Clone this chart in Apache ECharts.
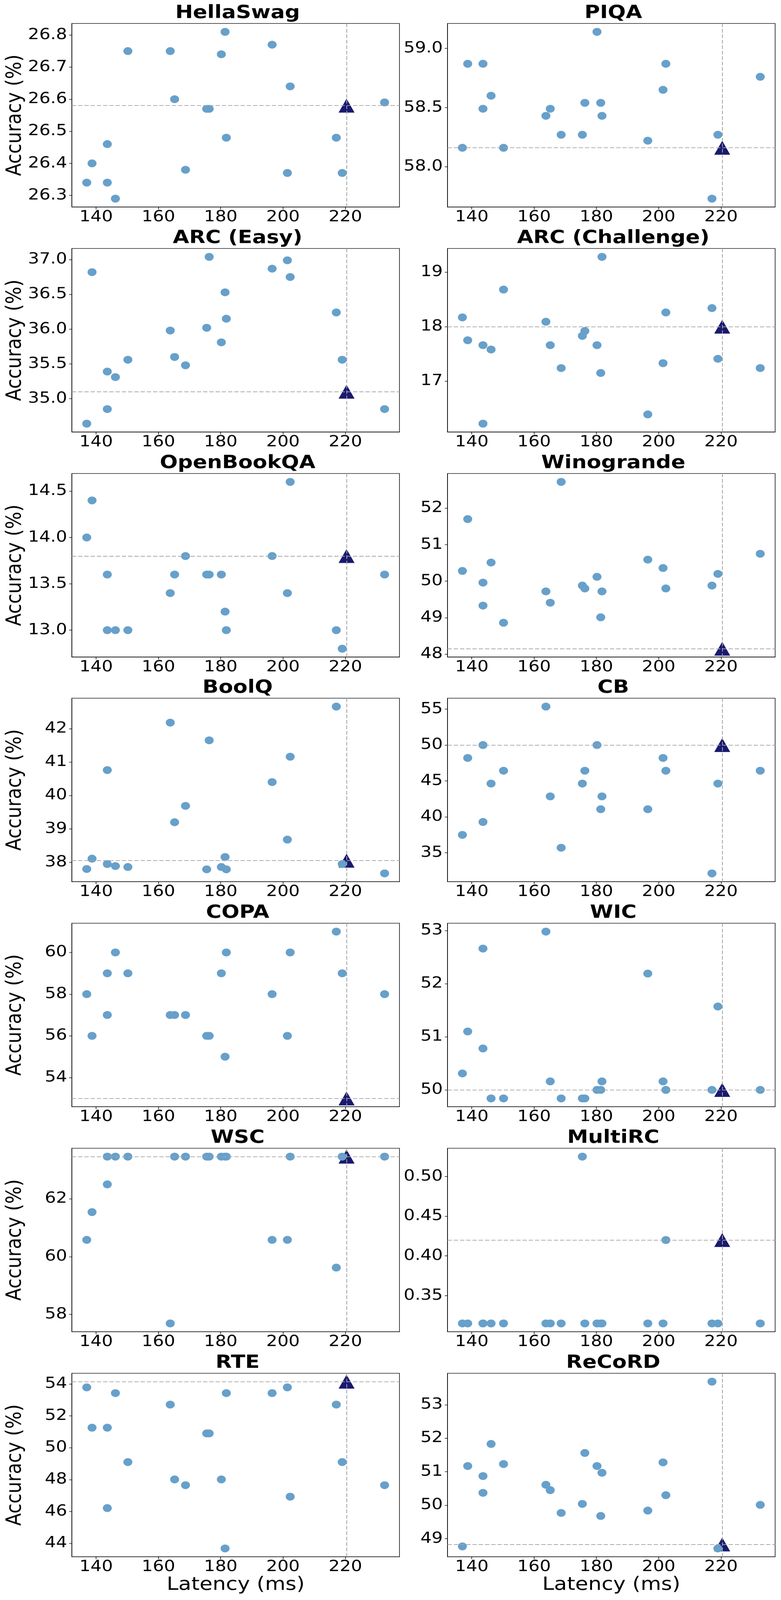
<!DOCTYPE html>
<html>
<head>
<meta charset="utf-8">
<script src="https://cdn.jsdelivr.net/npm/echarts@6/dist/echarts.min.js"></script>
<style>
  html, body { margin: 0; padding: 0; background: #fff; overflow: hidden; }
  #wrap { width: 2000px; overflow: hidden; }
  #chart { width: 2000px; height: 4700px; transform-origin: 0 0; }
</style>
</head>
<body>
<div id="wrap"><div id="chart"></div></div>
<script>
// latency of each model (ms), same for every benchmark
var latency = [137.0, 138.7, 143.6, 143.6, 146.2, 150.2, 163.8, 165.2, 168.7, 175.5,
               176.3, 180.2, 181.4, 181.8, 196.5, 201.4, 202.3, 217.1, 219.0, 232.6];
var refLatency = 220.4;
var xTicks = [140, 160, 180, 200, 220];

var titles = ['HellaSwag', 'PIQA', 'ARC (Easy)', 'ARC (Challenge)', 'OpenBookQA', 'Winogrande',
              'BoolQ', 'CB', 'COPA', 'WIC', 'WSC', 'MultiRC', 'RTE', 'ReCoRD'];

// accuracy of each model, same order as latency
var hellaswag    = [26.34, 26.40, 26.46, 26.34, 26.29, 26.75, 26.75, 26.60, 26.38, 26.57, 26.57, 26.74, 26.81, 26.48, 26.77, 26.37, 26.64, 26.48, 26.37, 26.59];
var piqa         = [58.16, 58.87, 58.87, 58.49, 58.60, 58.16, 58.43, 58.49, 58.27, 58.27, 58.54, 59.14, 58.54, 58.43, 58.22, 58.65, 58.87, 57.73, 58.27, 58.76];
var arcEasy      = [34.64, 36.82, 35.39, 34.85, 35.31, 35.56, 35.98, 35.60, 35.48, 36.02, 37.04, 35.81, 36.53, 36.15, 36.87, 36.99, 36.75, 36.24, 35.56, 34.85];
var arcChallenge = [18.17, 17.75, 17.66, 16.22, 17.58, 18.68, 18.09, 17.66, 17.24, 17.83, 17.92, 17.66, 17.15, 19.28, 16.39, 17.33, 18.26, 18.34, 17.41, 17.24];
var openbookqa   = [14.0, 14.4, 13.6, 13.0, 13.0, 13.0, 13.4, 13.6, 13.8, 13.6, 13.6, 13.6, 13.2, 13.0, 13.8, 13.4, 14.6, 13.0, 12.8, 13.6];
var winogrande   = [50.28, 51.70, 49.96, 49.33, 50.51, 48.86, 49.72, 49.41, 52.72, 49.88, 49.80, 50.12, 49.01, 49.72, 50.59, 50.36, 49.80, 49.88, 50.20, 50.75];
var boolq        = [37.80, 38.11, 40.76, 37.95, 37.89, 37.86, 42.18, 39.20, 39.69, 37.79, 41.65, 37.86, 38.16, 37.79, 40.40, 38.68, 41.16, 42.66, 37.95, 37.67];
var cb           = [37.50, 48.21, 50.00, 39.29, 44.64, 46.43, 55.36, 42.86, 35.71, 44.64, 46.43, 50.00, 41.07, 42.86, 41.07, 48.21, 46.43, 32.14, 44.64, 46.43];
var copa         = [58, 56, 59, 57, 60, 59, 57, 57, 57, 56, 56, 59, 55, 60, 58, 56, 60, 61, 59, 58];
var wic          = [50.31, 51.10, 52.66, 50.78, 49.84, 49.84, 52.98, 50.16, 49.84, 49.84, 49.84, 50.00, 50.00, 50.16, 52.19, 50.16, 50.00, 50.00, 51.57, 50.00];
var wsc          = [60.58, 61.54, 63.46, 62.50, 63.46, 63.46, 57.69, 63.46, 63.46, 63.46, 63.46, 63.46, 63.46, 63.46, 60.58, 60.58, 63.46, 59.62, 63.46, 63.46];
var multirc      = [0.315, 0.315, 0.315, 0.315, 0.315, 0.315, 0.315, 0.315, 0.315, 0.525, 0.315, 0.315, 0.315, 0.315, 0.315, 0.315, 0.42, 0.315, 0.315, 0.315];
var rte          = [53.79, 51.26, 51.26, 46.21, 53.43, 49.10, 52.71, 48.01, 47.65, 50.90, 50.90, 48.01, 43.68, 53.43, 53.43, 53.79, 46.93, 52.71, 49.10, 47.65];
var record       = [48.77, 51.17, 50.87, 50.37, 51.83, 51.23, 50.61, 50.45, 49.77, 50.04, 51.56, 51.17, 49.68, 50.97, 49.84, 51.28, 50.30, 53.69, 48.71, 50.01];

// accuracy of the reference model (triangle)
var refAccuracy = [26.58, 58.16, 35.10, 18.0, 13.8, 48.15, 38.05, 50.0, 53.0, 50.0, 63.46, 0.42, 54.15, 48.83];

// y tick labels per panel
var yTicks = [
  ['26.3', '26.4', '26.5', '26.6', '26.7', '26.8'],
  ['58.0', '58.5', '59.0'],
  ['35.0', '35.5', '36.0', '36.5', '37.0'],
  ['17', '18', '19'],
  ['13.0', '13.5', '14.0', '14.5'],
  ['48', '49', '50', '51', '52'],
  ['38', '39', '40', '41', '42'],
  ['35', '40', '45', '50', '55'],
  ['54', '56', '58', '60'],
  ['50', '51', '52', '53'],
  ['58', '60', '62'],
  ['0.35', '0.40', '0.45', '0.50'],
  ['44', '46', '48', '50', '52', '54'],
  ['49', '50', '51', '52', '53']
];

var accuracy = [hellaswag, piqa, arcEasy, arcChallenge, openbookqa, winogrande,
                boolq, cb, copa, wic, wsc, multirc, rte, record];

var FONT = 'DejaVu Sans';
var gridLeft = [184, 1146];
var gridW = 839, gridH = 539, gridTop0 = 69, rowStep = 660.8;

// matplotlib-like 5% padding around the data
function padded(arr) {
  var lo = Math.min.apply(null, arr), hi = Math.max.apply(null, arr);
  var d = (hi - lo) * 0.05;
  return [lo - d, hi + d];
}

function labelFor(strs) {
  return function (v) {
    for (var k = 0; k < strs.length; k++) {
      if (Math.abs(Number(strs[k]) - v) < 1e-9) return strs[k];
    }
    return '';
  };
}

var xr = padded(latency.concat([refLatency]));

var option = {
  animation: false,
  backgroundColor: '#fff',
  title: [], grid: [], xAxis: [], yAxis: [], series: []
};

for (var i = 0; i < titles.length; i++) {
  var col = i % 2, row = Math.floor(i / 2);
  var gTop = Math.round(gridTop0 + row * rowStep);
  var yr = padded(accuracy[i].concat([refAccuracy[i]]));
  var tickVals = yTicks[i].map(Number);

  option.title.push({
    text: titles[i],
    left: gridLeft[col] + gridW / 2,
    top: gTop - 62,
    textAlign: 'center',
    textStyle: { fontFamily: FONT, fontSize: 54, fontWeight: 'bold', color: '#000' }
  });

  option.grid.push({
    left: gridLeft[col], top: gTop, width: gridW, height: gridH,
    show: true, borderColor: '#000', borderWidth: 1.5, backgroundColor: 'transparent'
  });

  option.xAxis.push({
    type: 'value', gridIndex: i, min: xr[0], max: xr[1],
    name: row === 6 ? 'Latency (ms)' : '',
    nameLocation: 'middle', nameGap: 56,
    nameTextStyle: { fontFamily: FONT, fontSize: 54, color: '#000' },
    axisLine: { show: true, onZero: false, lineStyle: { color: '#000', width: 1.5 } },
    axisTick: { show: true, length: 7, customValues: xTicks, lineStyle: { color: '#000', width: 1.5 } },
    axisLabel: { customValues: xTicks, margin: 8, fontFamily: FONT, fontSize: 45, color: '#000' },
    splitLine: { show: false }
  });

  option.yAxis.push({
    type: 'value', gridIndex: i, min: yr[0], max: yr[1],
    name: col === 0 ? 'Accuracy (%)' : '',
    nameLocation: 'middle', nameGap: 118, nameRotate: 90,
    nameTextStyle: { fontFamily: FONT, fontSize: 54, color: '#000' },
    axisLine: { show: true, onZero: false, lineStyle: { color: '#000', width: 1.5 } },
    axisTick: { show: true, length: 7, customValues: tickVals, lineStyle: { color: '#000', width: 1.5 } },
    axisLabel: {
      customValues: tickVals, margin: 12, fontFamily: FONT, fontSize: 45, color: '#000',
      formatter: labelFor(yTicks[i])
    },
    splitLine: { show: false }
  });

  // reference model triangle
  option.series.push({
    type: 'scatter', xAxisIndex: i, yAxisIndex: i, z: 2,
    symbol: 'triangle', symbolSize: 41,
    itemStyle: { color: '#191970', opacity: 1 },
    data: [[refLatency, refAccuracy[i]]]
  });

  // other models
  option.series.push({
    type: 'scatter', xAxisIndex: i, yAxisIndex: i, z: 3,
    symbol: 'circle', symbolSize: 23,
    itemStyle: { color: '#67a0ca', opacity: 1 },
    data: latency.map(function (x, k) { return [x, accuracy[i][k]]; })
  });

  // dashed guide lines through the reference model
  option.series.push({
    type: 'line', xAxisIndex: i, yAxisIndex: i, z: 4,
    showSymbol: false, lineStyle: { opacity: 0 },
    data: [[refLatency, refAccuracy[i]]],
    markLine: {
      silent: true, symbol: ['none', 'none'],
      label: { show: false },
      lineStyle: { color: '#a3a3a3', width: 2, type: [11, 5] },
      data: [{ xAxis: refLatency }, { yAxis: refAccuracy[i] }]
    }
  });
}

var dom = document.getElementById('chart');
var chart = echarts.init(dom, null, { renderer: 'canvas' });
chart.setOption(option);

// the browser window is shorter than the figure: squeeze it vertically so every panel is visible
var H = window.innerHeight || 4700;
if (H < 4700) {
  dom.style.transform = 'scaleY(' + (H / 4700) + ')';
  document.getElementById('wrap').style.height = H + 'px';
}
</script>
</body>
</html>
